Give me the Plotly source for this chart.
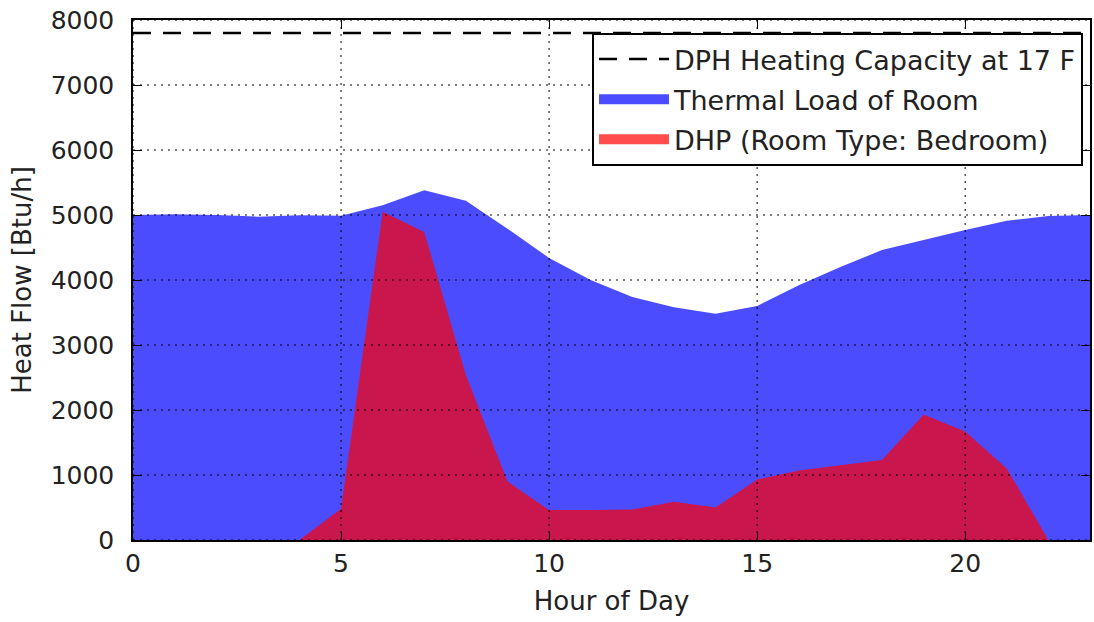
import plotly.graph_objects as go

# Hourly heat flow for a single day
hours = list(range(24))
thermal_load = [5000, 5010, 5000, 4975, 4995, 4990, 5150, 5380, 5220, 4790,
                4340, 4000, 3740, 3580, 3480, 3600, 3920, 4200, 4460, 4620,
                4770, 4910, 4985, 5000]
dhp_output = [0, 0, 0, 0, 0, 480, 5050, 4740, 2540, 900,
              460, 460, 470, 590, 500, 930, 1070, 1150, 1230, 1930,
              1670, 1100, 0, 0]
heating_capacity = 7800

x_ticks = [0, 5, 10, 15, 20]
y_ticks = [0, 1000, 2000, 3000, 4000, 5000, 6000, 7000, 8000]

FONT = "DejaVu Sans"
TEXT = "#222222"
BLUE = "rgba(0,0,255,0.7)"
RED = "rgba(255,0,0,0.7)"

fig = go.Figure()

fig.add_trace(go.Scatter(
    x=hours, y=thermal_load, name="Thermal Load of Room",
    mode="lines", line=dict(width=0, color=BLUE),
    fill="tozeroy", fillcolor=BLUE, showlegend=False,
))
fig.add_trace(go.Scatter(
    x=hours, y=dhp_output, name="DHP (Room Type: Bedroom)",
    mode="lines", line=dict(width=0, color=RED),
    fill="tozeroy", fillcolor=RED, showlegend=False,
))
fig.add_trace(go.Scatter(
    x=[hours[0], hours[-1]], y=[heating_capacity, heating_capacity],
    name="DPH Heating Capacity at 17 F", mode="lines",
    line=dict(color="black", width=2.5, dash="18px,12px"),
    legendrank=1, legendgroup="a",
))

# legend keys for the filled areas: wide patches
fig.add_trace(go.Scatter(
    x=[None], y=[None], name="Thermal Load of Room", mode="lines",
    line=dict(color=BLUE, width=20), legendrank=2, legendgroup="b",
))
fig.add_trace(go.Scatter(
    x=[None], y=[None], name="DHP (Room Type: Bedroom)", mode="lines",
    line=dict(color=RED, width=20), legendrank=3, legendgroup="c",
))

# dotted grid drawn over the filled areas
shapes = []
for xv in x_ticks:
    shapes.append(dict(type="line", xref="x", yref="paper", x0=xv, x1=xv, y0=0, y1=1,
                       layer="above", line=dict(color="black", width=1, dash="2px,5px")))
for yv in y_ticks:
    shapes.append(dict(type="line", xref="paper", yref="y", x0=0, x1=1, y0=yv, y1=yv,
                       layer="above", line=dict(color="black", width=1, dash="2px,5px")))

axis_common = dict(
    showline=True, linecolor="black", linewidth=1.5, mirror="allticks",
    ticks="inside", ticklen=9, tickwidth=1.2, tickcolor="black",
    showgrid=False, zeroline=False, layer="above traces",
    tickfont=dict(family=FONT, size=25, color=TEXT),
)

fig.update_layout(
    width=1094, height=622,
    margin=dict(l=133, r=2, t=20, b=82),
    paper_bgcolor="white", plot_bgcolor="white",
    font=dict(family=FONT, color=TEXT),
    shapes=shapes,
    showlegend=True,
    legend=dict(
        x=0.9927, xanchor="right", y=0.975, yanchor="top",
        bgcolor="white", bordercolor="black", borderwidth=2,
        font=dict(family=FONT, size=27, color=TEXT),
        traceorder="grouped", tracegroupgap=2, itemwidth=70,
    ),
    xaxis=dict(range=[0, 23], tickvals=x_ticks, ticklabelstandoff=0,
               title=dict(text="Hour of Day", font=dict(family=FONT, size=26, color=TEXT), standoff=15),
               **axis_common),
    yaxis=dict(range=[0, 8000], tickvals=y_ticks, ticklabelstandoff=12,
               title=dict(text="Heat Flow [Btu/h]", font=dict(family=FONT, size=26, color=TEXT), standoff=12),
               **axis_common),
)

fig.write_html("out.html")
